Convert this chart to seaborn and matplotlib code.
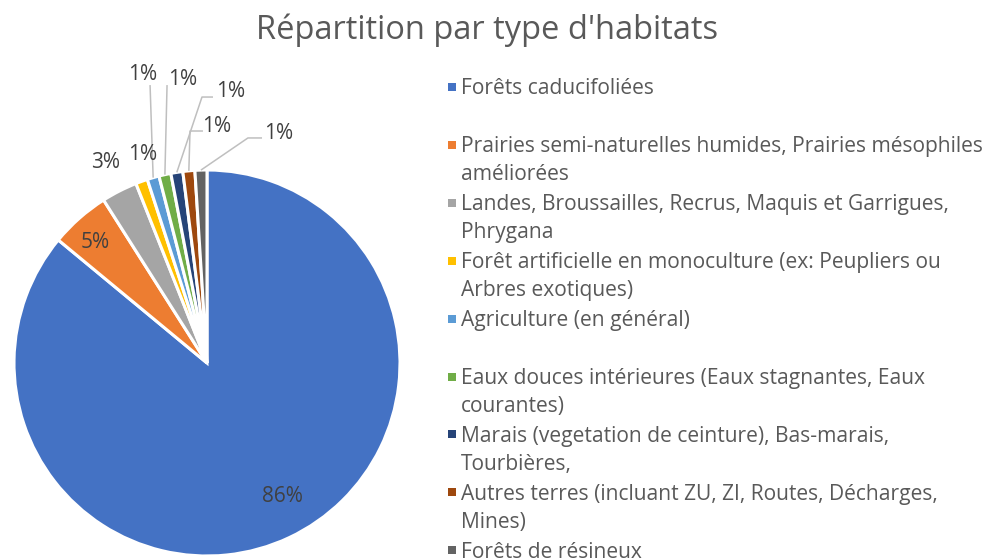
import matplotlib
matplotlib.use("Agg")
import matplotlib.pyplot as plt
import seaborn as sns
import numpy as np

categories = [
    "Forêts caducifoliées",
    "Prairies semi-naturelles humides, Prairies mésophiles\naméliorées",
    "Landes, Broussailles, Recrus, Maquis et Garrigues,\nPhrygana",
    "Forêt artificielle en monoculture (ex: Peupliers ou\nArbres exotiques)",
    "Agriculture (en général)",
    "Eaux douces intérieures (Eaux stagnantes, Eaux\ncourantes)",
    "Marais (vegetation de ceinture), Bas-marais,\nTourbières,",
    "Autres terres (incluant ZU, ZI, Routes, Décharges,\nMines)",
    "Forêts de résineux",
]
shares = [86, 5, 3, 1, 1, 1, 1, 1, 1]
colors = ["#4472C4", "#ED7D31", "#A5A5A5", "#FFC000", "#5B9BD5",
          "#70AD47", "#264478", "#9E480E", "#636363"]
title = "Répartition par type d'habitats"

# label centres (pie data units) and optional leader-line starting points
label_pos = [(0.389, -0.694), (-0.580, 0.622), (-0.528, 1.037), (-0.332, 1.078),
             (-0.332, 1.493), (-0.124, 1.467), (0.124, 1.405), (0.052, 1.223),
             (0.373, 1.187)]
leaders = [None, None, None, None,
           [(-0.295, 1.440)],
           [(-0.207, 1.440)],
           [(0.031, 1.378), (-0.026, 1.378)],
           [(-0.021, 1.202), (-0.088, 1.202)],
           [(0.285, 1.166), (0.212, 1.166)]]

sns.set_theme(style="white")
plt.rcParams["font.family"] = ["Open Sans", "DejaVu Sans"]
text_color = "#595959"
label_color = "#404040"

W, H = 984, 560
fig = plt.figure(figsize=(W / 100, H / 100), dpi=100)
fig.patch.set_facecolor("white")

cx, cy, r = 207, 363, 193
ax = fig.add_axes([(cx - r) / W, (H - cy - r) / H, 2 * r / W, 2 * r / H])
wedges, _ = ax.pie(shares, colors=colors, startangle=90, counterclock=False,
                   radius=1.0,
                   wedgeprops=dict(edgecolor="white", linewidth=2.2))
ax.set_xlim(-1, 1)
ax.set_ylim(-1, 1)
ax.set_aspect("equal")
ax.axis("off")

total = float(sum(shares))
for i, (w, val) in enumerate(zip(wedges, shares)):
    lx, ly = label_pos[i]
    ax.text(lx, ly, f"{round(val / total * 100):d}%", ha="center", va="center",
            fontsize=15, color=label_color, clip_on=False)
    if leaders[i] is not None:
        mid = np.deg2rad((w.theta1 + w.theta2) / 2)
        end = (np.cos(mid) * 1.0, np.sin(mid) * 1.0)
        pts = leaders[i] + [end]
        xs = [p[0] for p in pts]
        ys = [p[1] for p in pts]
        ax.plot(xs, ys, color="#BFBFBF", lw=1.1, clip_on=False,
                solid_capstyle="butt")

fig.text(487 / W, 1 - 30 / H, title, ha="center", va="center",
         fontsize=23.5, color=text_color)

# legend: square marker + wrapped label, fixed entry pitch
x_box, x_txt = 452, 461
y0, pitch, line_h = 87, 57.9, 28
for i, (lab, col) in enumerate(zip(categories, colors)):
    y = y0 + i * pitch
    fig.patches.append(plt.Rectangle(((x_box - 4) / W, 1 - (y + 4) / H),
                                     8 / W, 8 / H, transform=fig.transFigure,
                                     facecolor=col, edgecolor="none"))
    for k, line in enumerate(lab.split("\n")):
        fig.text(x_txt / W, 1 - (y + 2 + k * line_h) / H, line, ha="left",
                 va="center", fontsize=15.1, color=text_color)

fig.savefig("out.png", dpi=100, facecolor="white")
